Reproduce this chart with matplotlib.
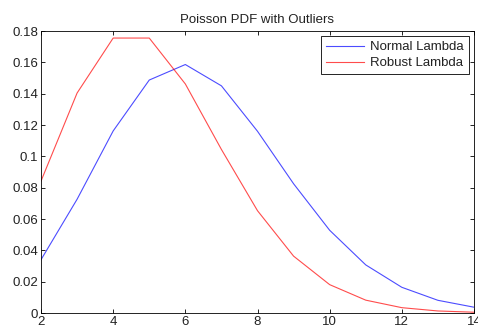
import numpy as np
import matplotlib
matplotlib.use("Agg")
import matplotlib.pyplot as plt

plt.rcParams.update({"font.family": "Liberation Sans", "font.size": 9.5})

x = [2, 3, 4, 5, 6, 7, 8, 9, 10, 11, 12, 13, 14]
normal_lambda = [0.0340, 0.0726, 0.1162, 0.1487, 0.1586, 0.1450, 0.1160,
                 0.0825, 0.0528, 0.0307, 0.0164, 0.0081, 0.0037]
robust_lambda = [0.0842, 0.1404, 0.1755, 0.1755, 0.1462, 0.1044, 0.0653,
                 0.0363, 0.0181, 0.0082, 0.0034, 0.0013, 0.0005]

fig = plt.figure(figsize=(4.78, 3.29), dpi=100)
ax = fig.add_axes([41/478, 1 - 313/329, (474-41)/478, (313-31)/329])
ax.plot(x, normal_lambda, color="#0000ff", lw=0.8, alpha=0.7, label="Normal Lambda")
ax.plot(x, robust_lambda, color="#ff0000", lw=0.8, alpha=0.7, label="Robust Lambda")
ax.set_xlim(2, 14)
ax.set_ylim(0, 0.18)
ax.set_xticks(range(2, 15, 2))
ax.set_yticks(np.arange(0, 0.181, 0.02))
ax.set_yticklabels(["0"] + [f"{v:g}" for v in np.arange(0.02, 0.181, 0.02)])
ax.tick_params(direction="in", top=True, right=True, length=3, width=0.6, pad=2,
               labelcolor="#222222")
for s in ax.spines.values():
    s.set_linewidth(0.6)
ax.set_title("Poisson PDF with Outliers", fontsize=9.5, pad=6, color="#222222")
leg = ax.legend(loc="upper right", fancybox=False, edgecolor="black",
                framealpha=1, borderaxespad=0.4, handlelength=2.9,
                handletextpad=0.5, borderpad=0.35, labelspacing=0.3)
leg.get_frame().set_linewidth(0.6)
for t in leg.get_texts():
    t.set_color("#222222")
fig.savefig("out.png", dpi=100)
